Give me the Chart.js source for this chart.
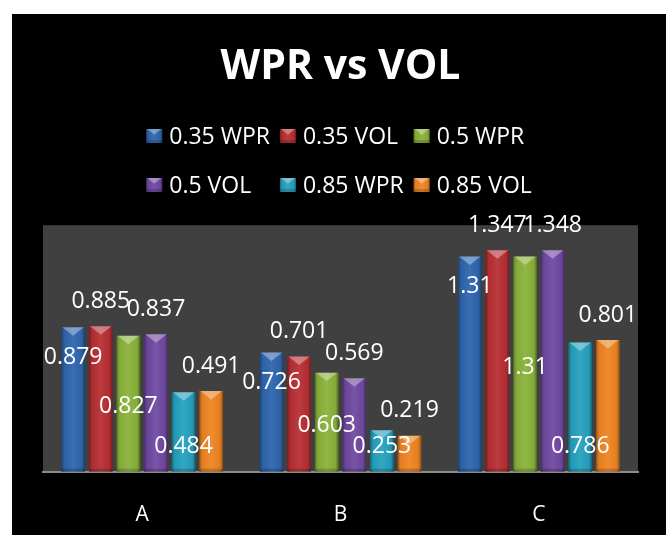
<!DOCTYPE html>
<html>
<head>
<meta charset="utf-8">
<script src="https://cdn.jsdelivr.net/npm/chart.js@4.4.1/dist/chart.umd.min.js"></script>
<style>
  html, body { margin: 0; padding: 0; background: #fff; }
  #wrap { position: absolute; left: 12px; top: 14px; width: 654px; height: 521px; background: #000; }
</style>
</head>
<body>
<div id="wrap"><canvas id="chart" width="654" height="521"></canvas></div>
<script>
const categories = ["A", "B", "C"];
const seriesNames = ["0.35 WPR", "0.35 VOL", "0.5 WPR", "0.5 VOL", "0.85 WPR", "0.85 VOL"];
const wpr035 = [0.879, 0.726, 1.31];
const vol035 = [0.885, 0.701, 1.347];
const wpr05 = [0.827, 0.603, 1.31];
const vol05 = [0.837, 0.569, 1.348];
const wpr085 = [0.484, 0.253, 0.786];
const vol085 = [0.491, 0.219, 0.801];

const colors = ["#2e66ae", "#b82f33", "#8ab33a", "#7049a2", "#25a2bf", "#ef8522"];
// where each series puts its value label (like Excel)
const labelPos = ["insideEnd", "outsideEnd", "center", "outsideEnd", "insideBase", "outsideEnd"];

const FONT = "'Open Sans', 'Noto Sans', sans-serif";

function bevel(ctx, l, t, r, b) {
  const w = r - l;
  const g = ctx.createLinearGradient(l, 0, r, 0);
  g.addColorStop(0, "rgba(0,0,0,0.35)");
  g.addColorStop(0.12, "rgba(0,0,0,0.05)");
  g.addColorStop(0.5, "rgba(255,255,255,0.06)");
  g.addColorStop(0.88, "rgba(0,0,0,0.05)");
  g.addColorStop(1, "rgba(0,0,0,0.4)");
  ctx.fillStyle = g;
  ctx.fillRect(l, t, w, b - t);
  // top pyramid facet
  ctx.beginPath();
  ctx.moveTo(l + 1, t);
  ctx.lineTo(r - 1, t);
  ctx.lineTo(l + w / 2, t + Math.min(w * 0.36, (b - t) / 2));
  ctx.closePath();
  ctx.fillStyle = "rgba(255,255,255,0.35)";
  ctx.fill();
  // bottom shade
  ctx.fillStyle = "rgba(0,0,0,0.18)";
  ctx.fillRect(l, b - Math.min(3, (b - t) / 4), w, Math.min(3, (b - t) / 4));
}

const plotBg = {
  id: "plotBg",
  beforeDraw(chart) {
    const { ctx, chartArea: a } = chart;
    ctx.save();
    ctx.fillStyle = "#404040";
    ctx.fillRect(a.left, a.top, a.right - a.left, a.bottom - a.top);
    ctx.restore();
  }
};

const barDeco = {
  id: "barDeco",
  afterDatasetsDraw(chart) {
    const ctx = chart.ctx;
    ctx.save();
    chart.data.datasets.forEach((ds, i) => {
      chart.getDatasetMeta(i).data.forEach(bar => {
        const p = bar.getProps(["x", "y", "base", "width"], true);
        bevel(ctx, p.x - p.width / 2, p.y, p.x + p.width / 2, p.base);
      });
    });
    ctx.font = "23px " + FONT;
    ctx.fillStyle = "#fff";
    ctx.textAlign = "center";
    ctx.textBaseline = "middle";
    chart.data.datasets.forEach((ds, i) => {
      chart.getDatasetMeta(i).data.forEach((bar, j) => {
        const p = bar.getProps(["x", "y", "base"], true);
        let ty;
        switch (labelPos[i]) {
          case "insideEnd": ty = p.y + 30; break;
          case "outsideEnd": ty = p.y - 25; break;
          case "center": ty = (p.y + p.base) / 2 + 3; break;
          default: ty = p.base - 25;
        }
        ctx.fillText(String(ds.data[j]), p.x, ty);
      });
    });
    ctx.restore();
  }
};

const gridLegend = {
  id: "gridLegend",
  afterDraw(chart) {
    const ctx = chart.ctx;
    const rows = [122, 171];
    const perRow = 3;
    const box = 16, gap = 7, sep = 10;
    ctx.save();
    ctx.font = "23px " + FONT;
    const widths = seriesNames.map(n => ctx.measureText(n).width);
    const colW = [];
    for (let c = 0; c < perRow; c++) {
      let m = 0;
      for (let k = c; k < seriesNames.length; k += perRow) m = Math.max(m, widths[k]);
      colW.push(box + gap + m);
    }
    const total = colW.reduce((s, v) => s + v, 0) + sep * (perRow - 1);
    const x0 = chart.width / 2 - total / 2;
    ctx.textBaseline = "middle";
    ctx.textAlign = "left";
    seriesNames.forEach((n, k) => {
      const c = k % perRow, r = Math.floor(k / perRow);
      let x = x0;
      for (let q = 0; q < c; q++) x += colW[q] + sep;
      const y = rows[r];
      ctx.fillStyle = colors[k];
      ctx.fillRect(x, y - 7, box, 14);
      bevel(ctx, x, y - 7, x + box, y + 7);
      ctx.fillStyle = "#fff";
      ctx.fillText(n, x + box + gap, y + 1);
    });
    ctx.restore();
  }
};

const seriesData = [wpr035, vol035, wpr05, vol05, wpr085, vol085];

new Chart(document.getElementById("chart"), {
  type: "bar",
  data: {
    labels: categories,
    datasets: seriesNames.map((name, i) => ({
      label: name,
      data: seriesData[i],
      backgroundColor: colors[i],
      borderWidth: 0
    }))
  },
  options: {
    responsive: false,
    animation: false,
    categoryPercentage: 0.835,
    barPercentage: 0.85,
    layout: { padding: { left: 31, right: 28, top: 0, bottom: 1 } },
    plugins: {
      legend: { display: false },
      tooltip: { enabled: false },
      title: {
        display: true,
        text: "WPR vs VOL",
        color: "#fff",
        font: { family: FONT, size: 41, weight: "bold" },
        padding: { top: 29, bottom: 133 }
      }
    },
    scales: {
      x: {
        grid: { display: false, tickLength: 25 },
        border: { display: true, color: "#8c8c8c", width: 2 },
        ticks: { color: "#fff", font: { family: FONT, size: 21 }, padding: 6 }
      },
      y: {
        display: false,
        min: 0,
        max: 1.5
      }
    }
  },
  plugins: [plotBg, barDeco, gridLegend]
});
</script>
</body>
</html>
